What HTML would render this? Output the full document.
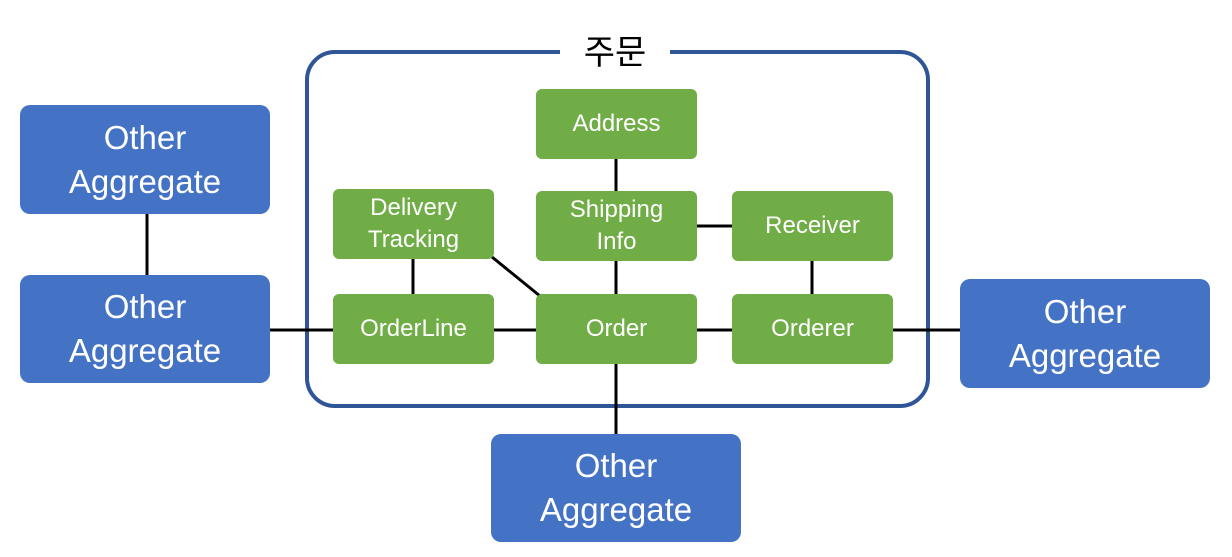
<!DOCTYPE html>
<html><head><meta charset="utf-8"><style>
body{margin:0;background:#fff;width:1232px;height:557px;overflow:hidden;position:relative;font-family:"Segoe UI","Liberation Sans","Noto Sans CJK KR",sans-serif}
.b{position:absolute;background:#4472C4;color:#fff;border-radius:10px;display:flex;align-items:center;justify-content:center;text-align:center;font-size:33px;line-height:44px;width:250px;height:109px}
.g{position:absolute;background:#70AD47;color:#fff;border-radius:6px;display:flex;align-items:center;justify-content:center;text-align:center;font-size:24px;line-height:32px;width:161px;height:70px}
</style></head><body>
<svg width="1232" height="557" style="position:absolute;left:0;top:0">
<rect x="307" y="52" width="621" height="354" rx="28" fill="none" stroke="#2F5597" stroke-width="4"/>
<rect x="560" y="40" width="110" height="25" fill="#fff"/>
<g stroke="#000" stroke-width="3">
<line x1="147" y1="214" x2="147" y2="275"/>
<line x1="270" y1="330" x2="333" y2="330"/>
<line x1="494" y1="330" x2="536" y2="330"/>
<line x1="697" y1="330" x2="732" y2="330"/>
<line x1="893" y1="330" x2="960" y2="330"/>
<line x1="616" y1="159" x2="616" y2="191"/>
<line x1="616" y1="261" x2="616" y2="294"/>
<line x1="616" y1="364" x2="616" y2="434"/>
<line x1="413" y1="259" x2="413" y2="294"/>
<line x1="812" y1="261" x2="812" y2="294"/>
<line x1="697" y1="226" x2="732" y2="226"/>
<line x1="492" y1="257" x2="540" y2="296"/>
</g>
<text x="615" y="64" font-size="34" text-anchor="middle" font-family="Noto Sans CJK KR, sans-serif" fill="#000">주문</text>
</svg>
<div class="b" style="left:20px;top:105px">Other<br>Aggregate</div>
<div class="b" style="left:20px;top:275px;height:108px">Other<br>Aggregate</div>
<div class="b" style="left:960px;top:279px">Other<br>Aggregate</div>
<div class="b" style="left:491px;top:434px;height:108px">Other<br>Aggregate</div>
<div class="g" style="left:536px;top:89px">Address</div>
<div class="g" style="left:333px;top:189px">Delivery<br>Tracking</div>
<div class="g" style="left:536px;top:191px">Shipping<br>Info</div>
<div class="g" style="left:732px;top:191px">Receiver</div>
<div class="g" style="left:333px;top:294px">OrderLine</div>
<div class="g" style="left:536px;top:294px">Order</div>
<div class="g" style="left:732px;top:294px">Orderer</div>
</body></html>
